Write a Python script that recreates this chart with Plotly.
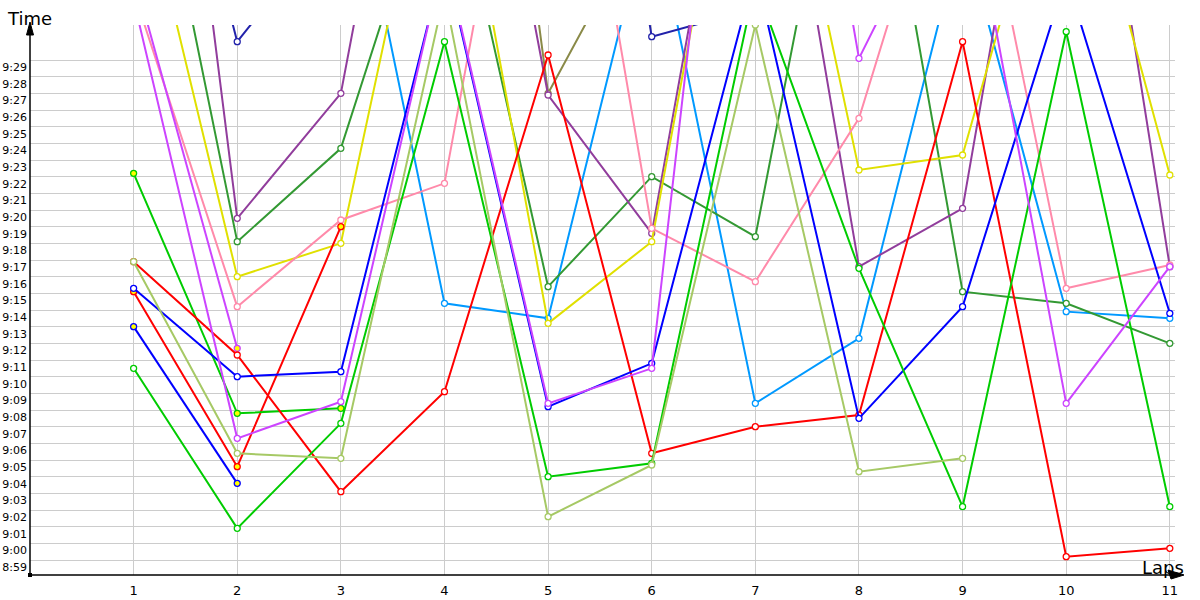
import plotly.graph_objects as go

# Lap numbers on the x axis
laps = list(range(1, 12))

# Lap times as "m:ss.s" (None = no lap). Values above 9:31 run off the top of the view.
red_a = ["9:16.9", "9:11.3", "9:03.1", "9:09.1", "9:29.3", "9:05.4", "9:07.0", "9:07.7", "9:30.1", "8:59.2", "8:59.7"]
red_b = ["9:15.1", "9:04.6", "9:19.0", None, None, None, None, None, None, None, None]
blue_a = ["9:15.3", "9:10.0", "9:10.3", "9:35.1", "9:08.2", "9:10.8", "9:34.4", "9:07.5", "9:14.2", "9:34.0", "9:13.8"]
blue_b = ["9:13.0", "9:03.6", None, None, None, None, None, None, None, None, None]
green_a = ["9:22.2", "9:07.8", "9:08.1", None, None, None, None, None, None, None, None]
green_b = ["9:10.5", "9:00.9", "9:07.2", "9:30.1", "9:04.0", "9:04.8", "9:33.6", "9:16.5", "9:02.2", "9:30.7", "9:02.2"]
lime = ["9:16.9", "9:05.4", "9:05.1", "9:33.0", "9:01.6", "9:04.7", "9:31.1", "9:04.3", "9:05.1", None, None]
violet_a = ["9:34.2", "9:11.7", None, None, None, None, None, None, None, None, None]
violet_b = ["9:32.6", "9:06.3", "9:08.5", "9:35.3", "9:08.4", "9:10.5", "10:05.0", "9:29.1", "9:41.5", "9:08.4", "9:16.6"]
pink = ["9:33.1", "9:14.2", "9:19.4", "9:21.6", "9:55.3", "9:18.9", "9:15.7", "9:25.5", "9:45.7", "9:15.3", "9:16.7"]
yellow = ["9:41.9", "9:16.0", "9:18.0", "9:47.0", "9:13.2", "9:18.1", "9:51.6", "9:22.4", "9:23.3", "9:45.2", "9:22.1"]
dkgreen = ["9:48.6", "9:18.1", "9:23.7", "9:43.0", "9:15.4", "9:22.0", "9:18.4", "9:50.3", "9:15.1", "9:14.4", "9:12.0"]
purple = ["10:09.0", "9:19.5", "9:27.0", "9:59.7", "9:26.9", "9:18.6", "9:53.0", "9:16.6", "9:20.1", "9:55.8", "9:16.6"]
skyblue = ["9:50.0", "9:45.0", "9:44.4", "9:14.4", "9:13.5", "9:38.6", "9:08.4", "9:12.3", "9:36.9", "9:13.9", "9:13.5"]
navy = ["9:54.0", "9:30.1", "9:37.9", "9:45.0", "10:08.0", "9:30.4", "9:32.1", "9:40.0", "9:40.0", "9:40.0", "9:40.0"]
olive = [None, None, None, "10:14.0", "9:27.0", "9:38.5", None, None, None, None, None]

# y tick labels, one per second
time_ticks = ["8:59"] + ["9:%02d" % s for s in range(0, 30)]


def to_sec(t):
    if t is None:
        return None
    m, s = t.split(":")
    return int(m) * 60 + float(s)


# (values, colour, marker fill) in drawing order
series = [
    (skyblue, "#0099ff", "white"),
    (navy, "#2222aa", "white"),
    (olive, "#8a8a48", "white"),
    (dkgreen, "#339933", "white"),
    (purple, "#913d9c", "white"),
    (yellow, "#e0e000", "white"),
    (pink, "#ff8aaa", "white"),
    (red_b, "#ff0000", "#ffff00"),
    (blue_b, "#0000ff", "#ffff00"),
    (green_a, "#00cc00", "#ffff00"),
    (violet_a, "#cc44ff", "#ffff00"),
    (red_a, "#ff0000", "white"),
    (blue_a, "#0000ff", "white"),
    (green_b, "#00cc00", "white"),
    (violet_b, "#cc44ff", "white"),
    (lime, "#a6c965", "white"),
]

fig = go.Figure()

for vals, color, fill in series:
    fig.add_trace(
        go.Scatter(
            x=laps,
            y=[to_sec(v) for v in vals],
            mode="lines+markers",
            line=dict(color=color, width=2),
            marker=dict(symbol="circle", size=6, color=fill,
                        line=dict(color=color, width=1.3)),
            connectgaps=False,
            showlegend=False,
        )
    )

# plot area in pixels: x 30..1175, y 25..575
L, R, T, B = 30, 1175, 25, 575


def px(p):
    return (p - L) / (R - L)


def py(p):
    return (B - p) / (B - T)


shapes = [
    # x axis with arrow
    dict(type="line", xref="paper", yref="paper", x0=0, y0=0, x1=px(1180), y1=0,
         line=dict(color="black", width=1.5)),
    dict(type="path", xref="paper", yref="paper", fillcolor="black", line=dict(color="black", width=1),
         path=f"M {px(1184)} {py(575)} L {px(1168)} {py(570)} L {px(1171)} {py(579)} Z"),
    # y axis with arrow
    dict(type="line", xref="paper", yref="paper", x0=0, y0=0, x1=0, y1=py(26),
         line=dict(color="black", width=1.5)),
    dict(type="path", xref="paper", yref="paper", fillcolor="black", line=dict(color="black", width=1),
         path=f"M {px(30)} {py(22)} L {px(26.5)} {py(35)} L {px(33.5)} {py(35)} Z"),
    # origin square
    dict(type="rect", xref="paper", yref="paper", x0=px(28), x1=px(32), y0=py(577), y1=py(573),
         fillcolor="black", line=dict(width=0)),
]

fig.update_layout(
    width=1200,
    height=600,
    margin=dict(l=L, r=1200 - R, t=T, b=600 - B, autoexpand=False),
    paper_bgcolor="white",
    plot_bgcolor="white",
    font=dict(family="DejaVu Sans", color="black"),
    shapes=shapes,
    annotations=[
        dict(text="Time", xref="paper", yref="paper", x=px(29), y=py(18),
             showarrow=False, font=dict(size=18), xanchor="center", yanchor="middle"),
        dict(text="Laps", xref="paper", yref="paper", x=px(1163), y=py(567),
             showarrow=False, font=dict(size=18), xanchor="center", yanchor="middle"),
    ],
)

fig.update_xaxes(
    range=[0, 11.05],
    tickvals=laps,
    ticktext=[str(v) for v in laps],
    showgrid=True,
    gridcolor="#cccccc",
    gridwidth=1,
    zeroline=False,
    showline=False,
    ticks="",
    tickfont=dict(size=13),
    ticklabelstandoff=6,
    automargin=False,
)

fig.update_yaxes(
    range=[538.1, 571.1],
    tickvals=[539 + i for i in range(len(time_ticks))],
    ticktext=time_ticks,
    showgrid=True,
    gridcolor="#cccccc",
    gridwidth=1,
    zeroline=False,
    showline=False,
    ticks="",
    tickfont=dict(size=11),
    ticklabelshift=7,
    ticklabelstandoff=2,
    automargin=False,
)

# the page body has a default 8px margin; drop it so the chart fills the window
fig.write_html("out.html", config={"displayModeBar": False},
               post_script="document.body.style.margin='0';")
